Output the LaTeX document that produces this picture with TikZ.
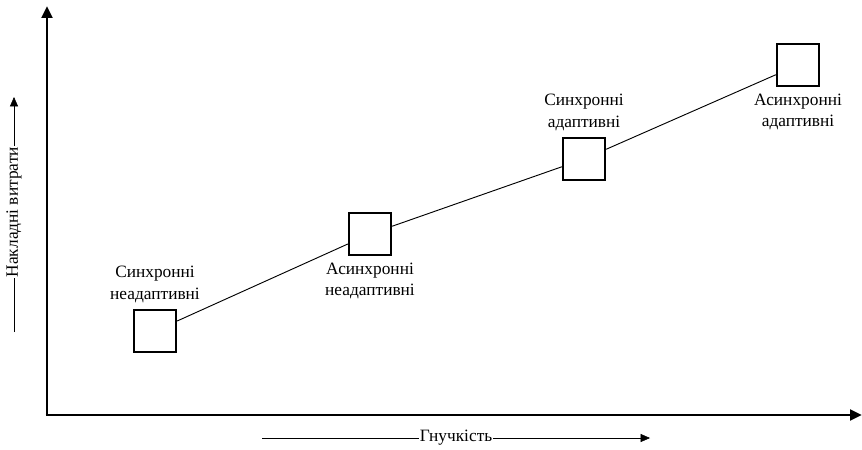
\documentclass[tikz,border=0pt]{standalone}
\usepackage{fontspec}
\setmainfont{Liberation Serif}
\usetikzlibrary{arrows.meta,positioning}

\begin{document}
\begin{tikzpicture}[x=0.75pt, y=-0.75pt, font=\fontsize{13}{16}\selectfont,
    box/.style={draw, line width=1.3pt, minimum size=32pt, inner sep=0pt},
    lbl/.style={align=center, inner sep=0pt}]
    \useasboundingbox (0,0) rectangle (862,449);
    % axes
    \coordinate (O) at (47,415);
    \coordinate (Ytop) at (47,6);
    \coordinate (Xend) at (862,415);
    \draw[line width=2.2pt, -{Triangle[length=9pt,width=8pt]}] (O) -- (Ytop);
    \draw[line width=2.2pt, -{Triangle[length=9pt,width=8pt]}] ([xshift=-1.1pt]O) -- (Xend);
    % axis captions
    \coordinate (ya) at (14,332);
    \coordinate (yb) at (14,97);
    \draw[-{Triangle[length=7pt,width=6pt]}] (ya) -- node[pos=0.51, fill=white, rotate=90, inner sep=0.5pt] (ycap) {Накладні витрати} (yb);
    \coordinate (xa) at (262,438);
    \coordinate (xb) at (650,438);
    \draw[-{Triangle[length=7pt,width=6pt]}] (xa) -- node[fill=white, inner sep=0.5pt] (xcap) {Гнучкість} (xb);
    % the four kinds
    \node[box] (sn) at (155,331) {};
    \node[box] (an) at (370,234) {};
    \node[box] (sa) at (584,159) {};
    \node[box] (aa) at (798,65) {};
    \draw[line width=0.7pt] (sn) -- (an) -- (sa) -- (aa);
    \node[lbl, above=4.5pt of sn.north] {Синхронні\\неадаптивні};
    \node[lbl, below=5pt of an.south] {Асинхронні\\неадаптивні};
    \node[lbl, above=4.5pt of sa.north] {Синхронні\\адаптивні};
    \node[lbl, below=5pt of aa.south] {Асинхронні\\адаптивні};
  \end{tikzpicture}
\end{document}
